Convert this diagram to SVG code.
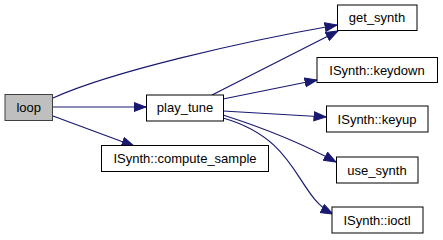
<svg xmlns="http://www.w3.org/2000/svg" width="443" height="240" viewBox="0 0 443 240">
  <style>
    .node rect { fill: #ffffff; stroke: #000000; stroke-width: 1; }
    .node.root rect { fill: #bfbfbf; stroke: #404040; }
    .node text { font-family: "Liberation Sans", Arial, sans-serif; font-size: 13px; fill: #000000; text-anchor: middle; }
    .edge { fill: none; stroke: #191970; stroke-width: 1.2; marker-end: url(#arrow); }
  </style>
  <defs>
    <marker id="arrow" markerUnits="userSpaceOnUse" markerWidth="14" markerHeight="11" refX="12.5" refY="5" orient="auto">
      <path d="M0.5,0.5 L12.5,5 L0.5,9.5 Z" fill="#191970" stroke="#191970" stroke-width="1"/>
    </marker>
  </defs>
  <rect width="443" height="240" fill="#ffffff"/>

  <g id="connectors">
    <path class="edge" d="M53,98 C110,72 240,42 337,25"/>
    <path class="edge" d="M53,107 L146,107"/>
    <path class="edge" d="M53,116 L134,146"/>
    <path class="edge" d="M212,95 L338,31"/>
    <path class="edge" d="M223,99 L317,80"/>
    <path class="edge" d="M223,111 L326,117"/>
    <path class="edge" d="M223,115 C270,130 305,145 336,162"/>
    <path class="edge" d="M223,118 C300,140 295,195 333,214"/>
  </g>

  <g id="node-loop" class="node root">
    <rect x="5" y="94.5" width="47.5" height="26"/>
    <text x="28.75" y="112">loop</text>
  </g>
  <g id="node-play_tune" class="node">
    <rect x="146.5" y="95" width="77" height="26"/>
    <text x="185" y="112">play_tune</text>
  </g>
  <g id="node-compute_sample" class="node">
    <rect x="101.5" y="145.5" width="167" height="26"/>
    <text x="185" y="163">ISynth::compute_sample</text>
  </g>
  <g id="node-get_synth" class="node">
    <rect x="337.5" y="5" width="79.5" height="25.5"/>
    <text x="377" y="22">get_synth</text>
  </g>
  <g id="node-keydown" class="node">
    <rect x="317" y="57.5" width="120.5" height="25"/>
    <text x="377" y="75">ISynth::keydown</text>
  </g>
  <g id="node-keyup" class="node">
    <rect x="326.5" y="106" width="101.5" height="26"/>
    <text x="377" y="123.5">ISynth::keyup</text>
  </g>
  <g id="node-use_synth" class="node">
    <rect x="336.5" y="157" width="81.5" height="26"/>
    <text x="377" y="174.5">use_synth</text>
  </g>
  <g id="node-ioctl" class="node">
    <rect x="332" y="207" width="91" height="26"/>
    <text x="377" y="224.5">ISynth::ioctl</text>
  </g>
</svg>
